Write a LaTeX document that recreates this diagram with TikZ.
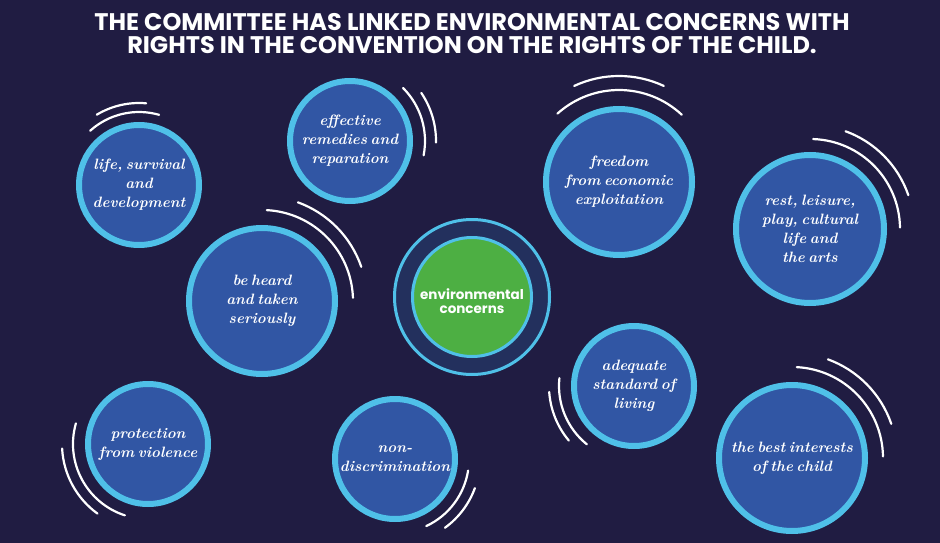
\documentclass[tikz,border=0pt]{standalone}
\usepackage{fontspec}
\newfontfamily\titlefont{Poppins}
\newcommand\bubblefont{\bfseries\itshape\fontsize{15}{19}\selectfont\spaceskip 3.5pt plus 1pt minus 1pt\relax}
\definecolor{bg}{HTML}{201C42}
\definecolor{bubblefill}{HTML}{3156A4}
\definecolor{ringblue}{HTML}{4FC0E8}
\definecolor{centerfill}{HTML}{23305D}
\definecolor{envgreen}{HTML}{4DAF43}
\begin{document}
\begin{tikzpicture}[x=1pt,y=1pt,
  bubble/.style={circle, fill=bubblefill, draw=ringblue, line width=6pt, inner sep=0pt,
    text=white, align=center, font=\bubblefont},
  wave/.style={draw=white, line width=2.2pt, line cap=round},
  titletext/.style={text=white, align=center, font=\titlefont\bfseries\fontsize{24}{23}\selectfont}]
\fill[bg] (0,0) rectangle (940,-543);
\useasboundingbox (0,0) rectangle (940,-543);

\node[titletext] (title) at (472,-34) {THE COMMITTEE HAS LINKED ENVIRONMENTAL CONCERNS WITH\\RIGHTS IN THE CONVENTION ON THE RIGHTS OF THE CHILD.};

% bubbles
\node[bubble, minimum size=120] (life) at (139,-185) {life, survival\\and\\development};
\node[bubble, minimum size=120] (remedies) at (350,-141) {effective\\remedies and\\reparation};
\node[bubble, minimum size=146] (freedom) at (619,-182) {freedom\\from economic\\exploitation};
\node[bubble, minimum size=148] (rest) at (810,-229) {rest, leisure,\\play, cultural\\life and\\the arts};
\node[bubble, minimum size=146] (heard) at (262,-301) {be heard\\and taken\\seriously};
\node[bubble, minimum size=120] (violence) at (148,-444) {protection\\from violence};
\node[bubble, minimum size=120] (nondisc) at (395,-459) {non-\\discrimination};
\node[bubble, minimum size=120] (living) at (634,-386) {adequate\\standard of\\living};
\node[bubble, minimum size=146] (best) at (792,-458) {the best interests\\of the child};

% centre
\node[circle, fill=centerfill, draw=ringblue, line width=3pt, minimum size=155, inner sep=0pt] (envring) at (472,-297) {};
\node[circle, fill=envgreen, draw=ringblue, line width=3pt, minimum size=119, inner sep=0pt] (env) at (472,-297) {};
\node[text=white, align=center, inner sep=0pt, font=\titlefont\bfseries\fontsize{13.5}{14}\selectfont] (envlabel) at ([yshift=-4]env.center) {environmental\\concerns};

% waves
\draw[wave] ([shift={(74:73)}]life.center) arc[start angle=74,end angle=132,radius=73];
\draw[wave] ([shift={(85:82)}]life.center) arc[start angle=85,end angle=121,radius=82];
\draw[wave] ([shift={(-11:75)}]remedies.center) arc[start angle=-11,end angle=45,radius=75];
\draw[wave] ([shift={(-1:86)}]remedies.center) arc[start angle=-1,end angle=34,radius=86];
\draw[wave] ([shift={(47:92)}]freedom.center) arc[start angle=47,end angle=132,radius=92];
\draw[wave] ([shift={(65:106)}]freedom.center) arc[start angle=65,end angle=115,radius=106];
\draw[wave] ([shift={(1:90)}]rest.center) arc[start angle=1,end angle=88,radius=90];
\draw[wave] ([shift={(19:104)}]rest.center) arc[start angle=19,end angle=70,radius=104];
\draw[wave] ([shift={(2:91)}]heard.center) arc[start angle=2,end angle=87,radius=91];
\draw[wave] ([shift={(19:105)}]heard.center) arc[start angle=19,end angle=70,radius=105];
\draw[wave] ([shift={(164:75)}]violence.center) arc[start angle=164,end angle=252,radius=75];
\draw[wave] ([shift={(183:86)}]violence.center) arc[start angle=183,end angle=234,radius=86];
\draw[wave] ([shift={(-65:74)}]nondisc.center) arc[start angle=-65,end angle=-9,radius=74];
\draw[wave] ([shift={(-54:85)}]nondisc.center) arc[start angle=-54,end angle=-20,radius=85];
\draw[wave] ([shift={(174:75)}]living.center) arc[start angle=174,end angle=231,radius=75];
\draw[wave] ([shift={(184:85)}]living.center) arc[start angle=184,end angle=220,radius=85];
\draw[wave] ([shift={(1:91)}]best.center) arc[start angle=1,end angle=87,radius=91];
\draw[wave] ([shift={(19:105)}]best.center) arc[start angle=19,end angle=70,radius=105];
\end{tikzpicture}
\end{document}
